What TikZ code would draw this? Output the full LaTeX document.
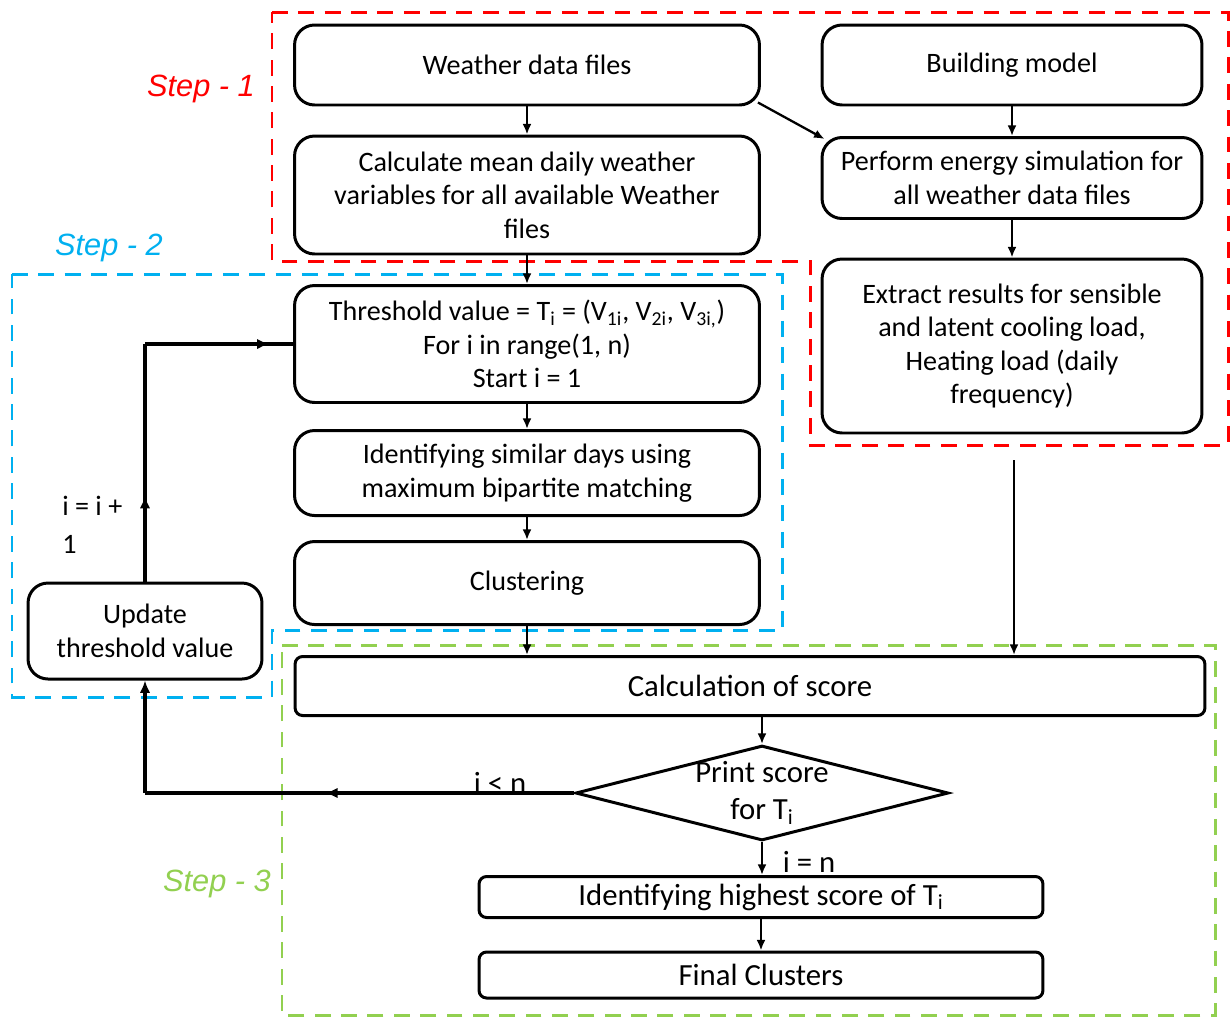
\documentclass[tikz,border=0pt]{standalone}
\usepackage{fontspec}
\setmainfont{Carlito}
\newfontfamily\arialfont{Liberation Sans}
\usetikzlibrary{shapes.geometric,arrows.meta,decorations.markings}
\definecolor{stepred}{HTML}{FF0000}
\definecolor{stepblue}{HTML}{00B0F0}
\definecolor{stepgreen}{HTML}{92D050}
\begin{document}
\begin{tikzpicture}[x=0.02cm,y=-0.02cm,
  box/.style={draw=black, line width=1.7pt, rounded corners=0.4cm, align=center, inner sep=1pt,
     font=\fontsize{16}{19}\selectfont},
  sbox/.style={box, rounded corners=0.15cm, font=\fontsize{17.5}{21}\selectfont},
  arr/.style={line width=1.3pt, -{Latex[length=6pt,width=5pt]}},
  loopline/.style={line width=1.9pt},
  midarrow/.style={postaction={decorate},decoration={markings,mark=at position #1 with {\arrow{Latex[length=7pt,width=6pt]}}}},
  region/.style={line width=1.7pt, dash pattern=on 9pt off 6pt},
  steplabel/.style={font=\arialfont\itshape\fontsize{17.5}{20}\selectfont, inner sep=0pt},
  lbl/.style={inner sep=0pt, font=\fontsize{16}{19}\selectfont}
]
\useasboundingbox (0,0) rectangle (1230,1019);
\fill[white] (0,0) rectangle (1230,1019);

% regions
\draw[region, stepred] (272,12) -- (1228,12) -- (1228,445) -- (810,445) -- (810,261) -- (272,261) -- cycle;
\draw[region, stepblue] (12,274) -- (782,274) -- (782,630) -- (272,630) -- (272,697) -- (12,697) -- cycle;
\draw[region, stepgreen] (282,645) -- (1215,645) -- (1215,1015) -- (282,1015) -- cycle;

\node[steplabel, text=stepred] (s1) at (201,89) {Step - 1};
\node[steplabel, text=stepblue] (s2) at (109,248) {Step - 2};
\node[steplabel, text=stepgreen] (s3) at (217,884) {Step - 3};

% boxes
\node[box, minimum width=9.3cm, minimum height=1.6cm] (w) at (527,65) {Weather data files};
\node[box, minimum width=7.6cm, minimum height=1.6cm] (b) at (1012,65) {Building model};
\node[box, minimum width=9.3cm, minimum height=2.36cm] (cm) at (527,195) {Calculate mean daily weather\\variables for all available Weather\\files};
\node[box, minimum width=7.6cm, minimum height=1.62cm] (p) at (1012,178) {Perform energy simulation for\\all weather data files};
\node[box, minimum width=7.6cm, minimum height=3.48cm] (e) at (1012,346) {Extract results for sensible\\and latent cooling load,\\Heating load (daily\\frequency)};
\node[box, minimum width=9.3cm, minimum height=2.34cm] (t) at (527,344) {Threshold value = T\textsubscript{i} = (V\textsubscript{1i}, V\textsubscript{2i}, V\textsubscript{3i,})\\For i in range(1, n)\\Start i = 1};
\node[box, minimum width=9.3cm, minimum height=1.7cm] (id) at (527,473) {Identifying similar days using\\maximum bipartite matching};
\node[box, minimum width=9.3cm, minimum height=1.66cm] (cl) at (527,583) {Clustering};
\node[box, minimum width=4.68cm, minimum height=1.92cm] (u) at (145,631) {Update\\threshold value};
\node[sbox, minimum width=18.2cm, minimum height=1.18cm] (cs) at (750,686) {Calculation of score};
\node[diamond, aspect=3.93, draw=black, line width=1.7pt, minimum width=7.46cm, minimum height=1.9cm,
      inner xsep=-3pt, inner ysep=-2.5pt, align=center,
      font=\fontsize{17.5}{21}\selectfont] (d) at (762,793) {Print score\\for T\textsubscript{i}};
\node[sbox, minimum width=11.28cm, minimum height=0.82cm] (hs) at (761,897) {Identifying highest score of T\textsubscript{i}};
\node[sbox, minimum width=11.28cm, minimum height=0.92cm] (fc) at (761,975) {Final Clusters};

% connectors
\draw[arr] (w) -- (cm);
\draw[arr] ([shift={(-3,-4)}]w.south east) -- ([shift={(4,3)}]p.north west);
\draw[arr] (b) -- (p);
\draw[arr] (p) -- (e);
\draw[arr] (cm) -- (t);
\draw[arr] (t) -- (id);
\draw[arr] (id) -- (cl);
\draw[arr] (cl.south) -- (cl.south |- cs.north);
\coordinate (e1) at (1014,460);
\draw[arr] (e1) -- (e1 |- cs.north);
\draw[arr] (cs.south -| d.north) -- (d.north);
\draw[arr] (d.south) -- (hs.north -| d.south);
\draw[arr] (hs.south -| fc.north) -- (fc.north);

% loop
\coordinate (c1) at (145,793);
\coordinate (c2) at (145,344);
\draw[loopline, midarrow=0.58] (d.west) -- (c1);
\draw[loopline, -{Latex[length=7pt,width=6pt]}] (c1) -- (u.south);
\draw[loopline, midarrow=0.36] (u.north) -- (c2);
\draw[loopline, midarrow=0.84] (c2) -- (t.west);

% labels
\node[lbl, font=\fontsize{17.5}{21}\selectfont] (lt) at (500,783) {i < n};
\node[lbl, font=\fontsize{17.5}{21}\selectfont] (le) at (809,862) {i = n};
\node[lbl, anchor=west] (li1) at (62,506) {i = i +};
\node[lbl, anchor=west] (li2) at (62,544) {1};
\end{tikzpicture}
\end{document}
